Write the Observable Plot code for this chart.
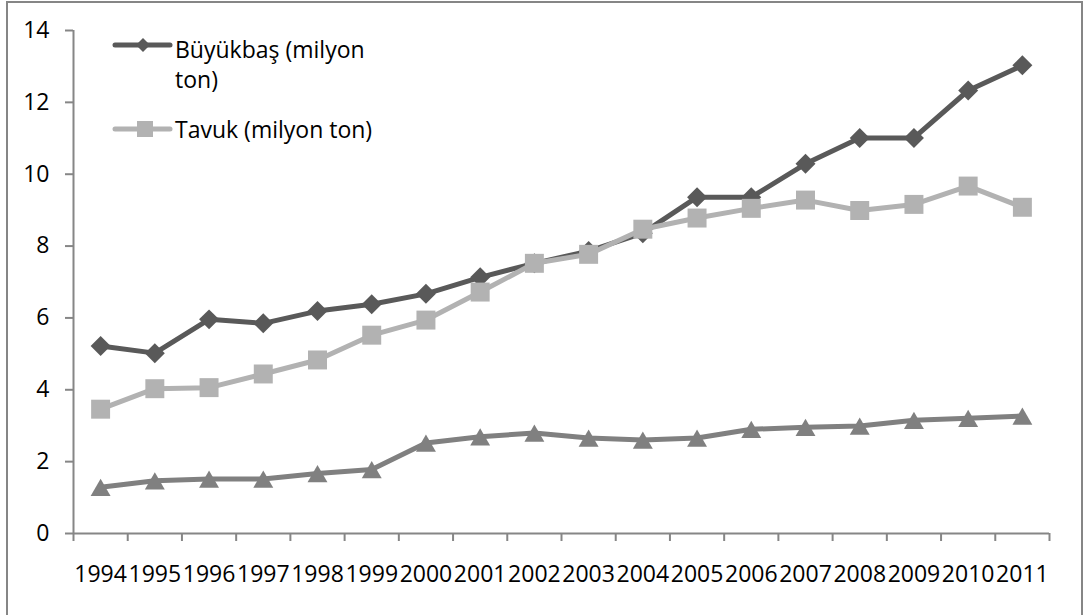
<!DOCTYPE html>
<html>
<head>
<meta charset="utf-8">
<script src="https://cdn.jsdelivr.net/npm/d3@7"></script>
<script src="https://cdn.jsdelivr.net/npm/@observablehq/plot@0.6"></script>
<style>
  body { margin: 0; background: #fff; }
  #wrap { position: relative; width: 1084px; height: 615px; overflow: hidden; font-family: "Open Sans", sans-serif; }
  #chart { position: absolute; left: 0; top: 0; }
  #border { position: absolute; left: 6px; top: 1px; width: 1077px; height: 616px; border: 2px solid #868686; border-bottom: none; box-sizing: border-box; pointer-events: none; }
  .leg { position: absolute; font-size: 23px; line-height: 30px; color: #000; white-space: nowrap; }
  .sw { position: absolute; overflow: visible; }
</style>
</head>
<body>
<div id="wrap">
  <div id="chart"></div>
  <svg class="sw" style="left:112px;top:33px" width="62" height="24" viewBox="0 0 62 24">
    <line x1="3" y1="12" x2="58" y2="12" stroke="#595959" stroke-width="5" stroke-linecap="round"/>
    <path d="M31,5 L38,12 L31,19 L24,12 Z" fill="#595959"/>
  </svg>
  <div class="leg" id="leg1" style="left:175px;top:34px"></div>
  <svg class="sw" style="left:112px;top:117px" width="62" height="24" viewBox="0 0 62 24">
    <line x1="3" y1="12" x2="58" y2="12" stroke="#b2b2b2" stroke-width="5" stroke-linecap="round"/>
    <rect x="25" y="4" width="16" height="16" fill="#b2b2b2"/>
  </svg>
  <div class="leg" id="leg2" style="left:175px;top:114px"></div>
  <div id="border"></div>
</div>
<script>
const years = [1994, 1995, 1996, 1997, 1998, 1999, 2000, 2001, 2002, 2003, 2004, 2005, 2006, 2007, 2008, 2009, 2010, 2011];
const buyukbas = [5.22, 5.02, 5.96, 5.85, 6.19, 6.38, 6.67, 7.13, 7.52, 7.86, 8.36, 9.36, 9.36, 10.29, 11.01, 11.01, 12.33, 13.03];
const tavuk = [3.46, 4.03, 4.06, 4.44, 4.83, 5.52, 5.94, 6.72, 7.52, 7.77, 8.47, 8.78, 9.05, 9.28, 8.99, 9.16, 9.67, 9.08];
const ucuncuSeri = [1.29, 1.47, 1.52, 1.52, 1.67, 1.78, 2.52, 2.69, 2.80, 2.66, 2.60, 2.66, 2.90, 2.96, 2.99, 3.15, 3.21, 3.27];
const yTicks = [0, 2, 4, 6, 8, 10, 12, 14];
const legendLabels = ["Büyükbaş (milyon", "ton)", "Tavuk (milyon ton)"];

const colors = { buyukbas: "#595959", tavuk: "#b2b2b2", ucuncu: "#808080" };
const axisColor = "#868686";

const rows = vals => years.map((yr, i) => ({ i, year: yr, value: vals[i] }));
const idx = years.map((_, i) => i);
const bounds = [...idx.map(i => i - 0.5), years.length - 0.5];

const chart = Plot.plot({
  width: 1084,
  height: 615,
  marginLeft: 73,
  marginRight: 35,
  marginTop: 30,
  marginBottom: 82,
  style: { fontFamily: "Open Sans", fontSize: "23px", background: "transparent", color: "#000", overflow: "visible" },
  x: { type: "linear", domain: [-0.5, years.length - 0.5] },
  y: { domain: [0, 14] },
  marks: [
    Plot.axisY({ ticks: yTicks, tickSize: 8, tickPadding: 16, stroke: axisColor, strokeWidth: 2, fill: "#000", label: null }),
    Plot.axisX({ ticks: bounds, tickSize: 8, tickFormat: () => "", stroke: axisColor, strokeWidth: 2, label: null }),
    Plot.axisX({ ticks: idx, tickSize: 0, tickPadding: 32, tickFormat: i => String(years[i]), fill: "#000", stroke: "none", label: null }),
    Plot.ruleY([0], { stroke: axisColor, strokeWidth: 2 }),
    Plot.ruleX([-0.5], { stroke: axisColor, strokeWidth: 2 }),
    Plot.line(rows(buyukbas), { x: "i", y: "value", stroke: colors.buyukbas, strokeWidth: 5 }),
    Plot.dot(rows(buyukbas), { x: "i", y: "value", symbol: "diamond2", r: 9, fill: colors.buyukbas, stroke: "none" }),
    Plot.line(rows(tavuk), { x: "i", y: "value", stroke: colors.tavuk, strokeWidth: 5 }),
    Plot.dot(rows(tavuk), { x: "i", y: "value", symbol: "square", r: 10.7, fill: colors.tavuk, stroke: "none" }),
    Plot.line(rows(ucuncuSeri), { x: "i", y: "value", stroke: colors.ucuncu, strokeWidth: 5 }),
    Plot.dot(rows(ucuncuSeri), { x: "i", y: "value", symbol: "triangle", r: 7.4, dy: 3, fill: colors.ucuncu, stroke: "none" })
  ]
});
document.getElementById("chart").appendChild(chart);
document.getElementById("leg1").innerHTML = legendLabels[0] + "<br>" + legendLabels[1];
document.getElementById("leg2").textContent = legendLabels[2];
</script>
</body>
</html>
